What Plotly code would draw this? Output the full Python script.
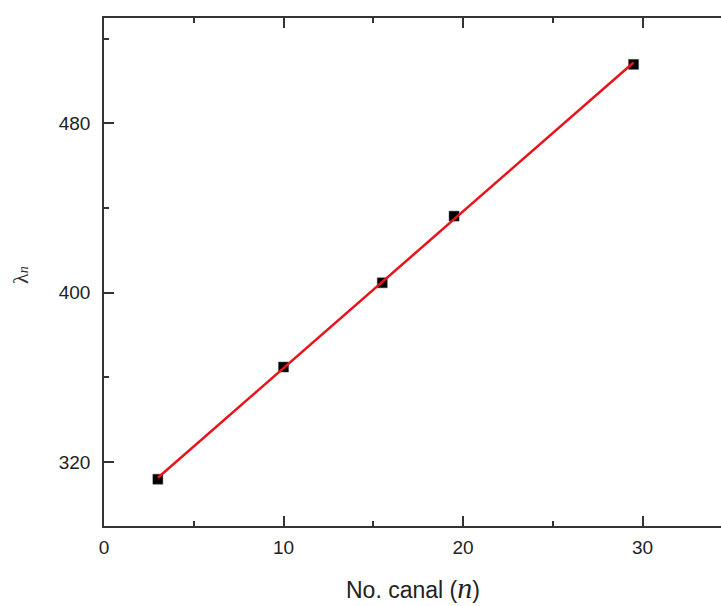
import numpy as np
import plotly.graph_objects as go

# Data
channel_n = [3, 10, 15.5, 19.5, 29.5]
lambda_n = [311.8, 364.8, 404.6, 436.1, 507.8]

x_tick_vals = [0, 10, 20, 30]
y_tick_vals = [320, 400, 480]
y_minor_vals = [360, 440, 520]

x_title = "No. canal (<span style='font-family:Liberation Serif, Times New Roman; font-style:italic; font-size:30px'>n</span>)"
y_title = "λ<i><span style='font-size:14px'>n</span></i>"

# Linear fit (red line)
coef = np.polyfit(channel_n, lambda_n, 1)
fit_x = [min(channel_n), max(channel_n)]
fit_y = list(np.polyval(coef, fit_x))

fig = go.Figure()
fig.add_trace(go.Scatter(
    x=channel_n, y=lambda_n, mode="markers",
    marker=dict(symbol="square", size=10, color="black",
                line=dict(color="#444", width=0.5)),
    showlegend=False,
))
fig.add_trace(go.Scatter(
    x=fit_x, y=fit_y, mode="lines",
    line=dict(color="#e8141b", width=2.5),
    showlegend=False,
))

axis_common = dict(
    showline=True, linecolor="#333", linewidth=1.5,
    ticks="inside", ticklen=10, tickwidth=1.5, tickcolor="#333",
    showgrid=False, zeroline=False, automargin=False,
    tickfont=dict(family="Liberation Sans, Arial", size=19, color="#222"),
)

fig.update_xaxes(
    **axis_common,
    range=[0, 34.37],
    tickvals=x_tick_vals,
    minor=dict(dtick=5, ticks="inside", ticklen=5, tickwidth=1.5, tickcolor="#333", showgrid=False),
    mirror="ticks",
    ticklabelstandoff=3,
)
fig.update_yaxes(
    **axis_common,
    range=[289.7, 529.7],
    tickvals=y_tick_vals,
    minor=dict(tickvals=y_minor_vals, ticks="inside", ticklen=5, tickwidth=1.5, tickcolor="#333", showgrid=False),
    ticklabelstandoff=8,
)

fig.add_annotation(
    text=x_title, xref="paper", yref="paper", x=0.5, y=0,
    xanchor="center", yanchor="middle", yshift=-61, showarrow=False,
    font=dict(family="Liberation Sans, Arial", size=23, color="#222"),
)
fig.add_annotation(
    text=y_title, xref="paper", yref="paper", x=0, y=0.5,
    xanchor="center", yanchor="middle", xshift=-84, yshift=-3,
    textangle=-90, showarrow=False,
    font=dict(family="Liberation Serif, Times New Roman", size=22, color="#333"),
)

fig.update_layout(
    width=721, height=606,
    margin=dict(l=104, r=0, t=18, b=80),
    plot_bgcolor="white", paper_bgcolor="white",
)

fig.write_html("out.html", config={"displayModeBar": False},
               post_script="document.body.style.margin='0px';")
